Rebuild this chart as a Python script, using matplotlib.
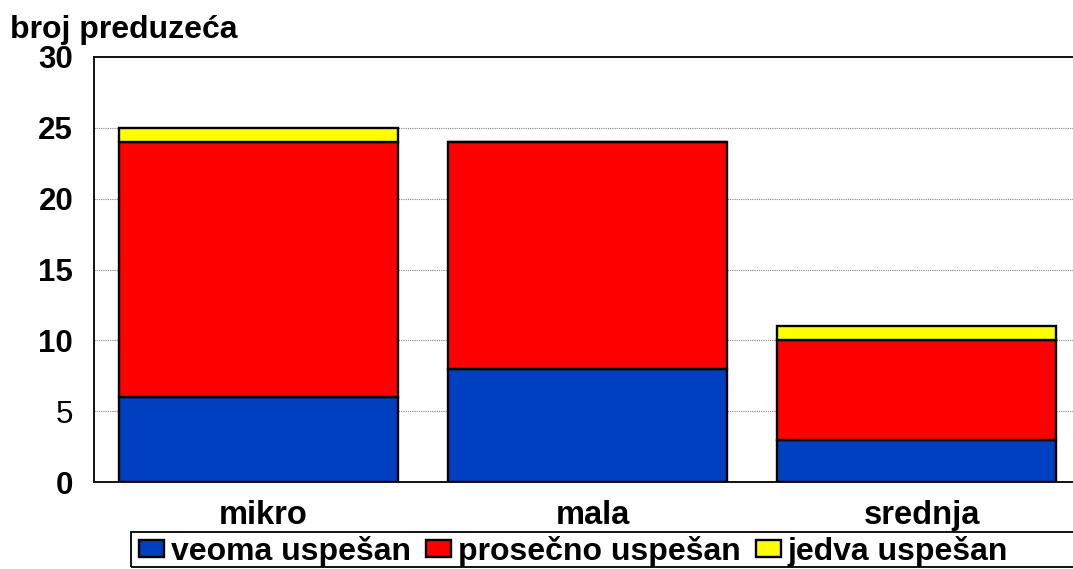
import matplotlib
matplotlib.use("Agg")
import matplotlib.pyplot as plt
from matplotlib.patches import Rectangle
from matplotlib.transforms import ScaledTranslation
import numpy as np

categories = ["mikro", "mala", "srednja"]
veoma = [6, 8, 3]
prosecno = [18, 16, 7]
jedva = [1, 0, 1]
series_names = ["veoma uspešan", "prosečno uspešan", "jedva uspešan"]
series_colors = ["#0040C0", "#FF0000", "#FFFF00"]
yticks = [0, 5, 10, 15, 20, 25, 30]

plt.rcParams["font.family"] = ["Liberation Sans", "DejaVu Sans"]

W, H = 1073, 569
fig = plt.figure(figsize=(W / 100, H / 100), dpi=100)
ax = fig.add_axes([94 / W, 1 - 482 / H, 987 / W, (482 - 57) / H])

x = np.arange(len(categories))
width = 0.85
bottom = np.zeros(len(categories))
handles = []
for vals, name, col in zip([veoma, prosecno, jedva], series_names, series_colors):
    vals = np.array(vals, dtype=float)
    bars = ax.bar(x, vals, width, bottom=bottom, color=col, edgecolor="black",
                  linewidth=1.7, label=name, zorder=3)
    handles.append(bars)
    bottom += vals

ax.set_xlim(-0.5, 2.5)
ax.set_ylim(0, 30)
ax.set_yticks(yticks)
ax.set_yticklabels([str(t) for t in yticks], fontsize=22.5, fontweight="bold")
for lbl in ax.get_yticklabels():
    if lbl.get_text() == "5":
        lbl.set_fontweight("normal")
ax.set_xticks(x)
ax.set_xticklabels(categories, fontsize=23.5, fontweight="bold")
ax.tick_params(axis="both", length=0)
ax.tick_params(axis="y", pad=15)
ax.tick_params(axis="x", pad=13)
shift = ScaledTranslation(5 / 100, 0, fig.dpi_scale_trans)
for lbl in ax.get_xticklabels():
    lbl.set_transform(lbl.get_transform() + shift)

for t in yticks[1:-1]:
    ax.axhline(t, color="#808080", linestyle=(0, (1, 1)), linewidth=0.8, zorder=1)

for s in ax.spines.values():
    s.set_linewidth(1.3)
    s.set_color("black")

fig.text(10 / W, 1 - 38 / H, "broj preduzeća", fontsize=23, fontweight="bold",
         ha="left", va="baseline")

# legend box running off the right edge
fig.patches.append(Rectangle((131 / W, 1 - 567 / H), 1.0, (567 - 532) / H,
                             transform=fig.transFigure, fill=False,
                             edgecolor="black", linewidth=1.3))

leg = fig.legend(handles=handles, labels=series_names, loc="upper left",
                 bbox_to_anchor=(139 / W, 1 - 536 / H), ncol=3, frameon=False,
                 prop={"weight": "bold", "size": 23},
                 handlelength=0.78, handleheight=0.47, handletextpad=0.22,
                 columnspacing=0.47, borderpad=0, borderaxespad=0)

fig.savefig("out.png", dpi=100)
